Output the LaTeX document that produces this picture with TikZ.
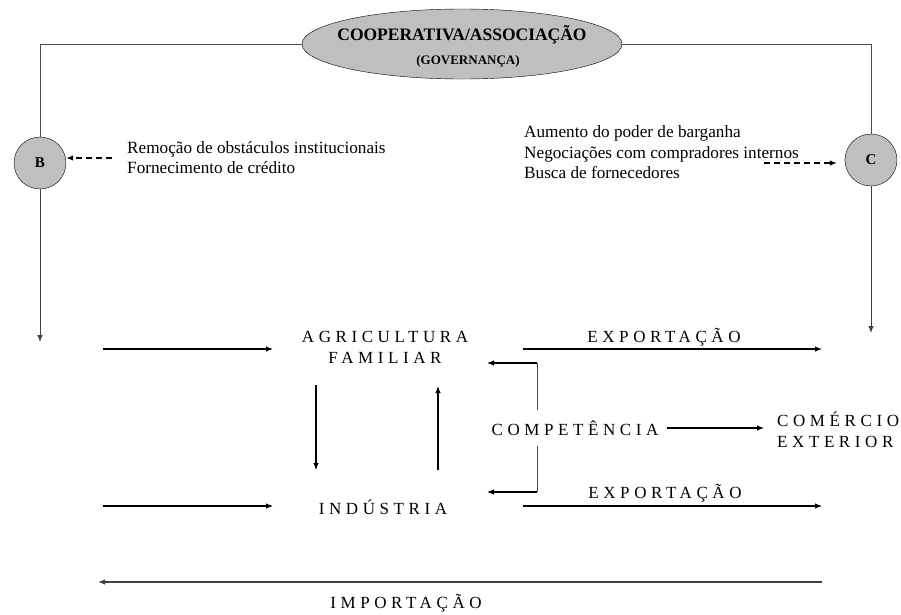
\documentclass[tikz,border=0pt]{standalone}
\usepackage{fontspec}
\setmainfont{Liberation Serif}
\newfontfamily\spc[LetterSpace=27]{Liberation Serif}
\usetikzlibrary{arrows.meta,shapes.geometric}
\begin{document}
\begin{tikzpicture}[x=1pt,y=-1pt,
  frame/.style={draw=black!70, line width=0.9pt},
  arr/.style={-{Latex[length=7pt,width=5.5pt]}, line width=1.1pt},
  garr/.style={-{Latex[length=7pt,width=5.5pt]}, line width=1pt, draw=black!75},
  dsh/.style={-{Latex[length=7pt,width=5.5pt]}, line width=1.2pt, dash pattern=on 6pt off 4pt},
  circ/.style={circle, draw, fill=black!25, minimum size=52pt, inner sep=0pt, font=\bfseries\fontsize{15}{17}\selectfont},
  lab/.style={inner sep=0pt, font=\spc\fontsize{17}{21}\selectfont, align=center},
  txt/.style={inner sep=0pt, anchor=west, align=left, font=\fontsize{17.2}{20.5}\selectfont}]
\useasboundingbox (0,0) rectangle (901,614);

% governance ellipse
\node[ellipse, draw, fill=black!25, minimum width=320pt, minimum height=70pt, inner sep=0pt] (gov) at (462,44) {};
\node[inner sep=0pt, font=\bfseries\fontsize{17.5}{20}\selectfont] (gt1) at (462,35) {COOPERATIVA/ASSOCIAÇÃO};
\node[inner sep=0pt, font=\bfseries\fontsize{13}{15}\selectfont] (gt2) at (468,61) {(GOVERNANÇA)};

% circles
\node[circ] (B) at (40,163) {B};
\node[circ] (C) at (871,160) {C};

% frame lines
\coordinate (Bend) at (40,342);
\coordinate (Cend) at (871,333);
\draw[frame] (gov.west) -| (B.north);
\draw[frame] (gov.east) -| (C.north);
\draw[garr] (B.south) -- (Bend);
\draw[garr] (C.south) -- (Cend);

% side texts
\node[txt] (tb) at (127,157.5) {Remoção de obstáculos institucionais\\Fornecimento de crédito};
\node[txt] (tc) at (524,152.5) {Aumento do poder de barganha\\Negociações com compradores internos\\Busca de fornecedores};
\coordinate (db) at (112,158);
\coordinate (dc) at (764,163);
\draw[dsh] (db) -- (db -| B.east);
\draw[dsh] ([xshift=0pt]dc) -- ([xshift=-8pt]dc -| C.west);

% central labels
\node[lab] (agr) at (385,347.5) {AGRICULTURA\\FAMILIAR};
\node[lab] (ind) at (383,507) {INDÚSTRIA};
\node[lab] (exp1) at (664,337) {EXPORTAÇÃO};
\node[lab] (exp2) at (665,493) {EXPORTAÇÃO};
\node[lab, anchor=west, align=left] (com) at (777,429.5) {COMÉRCIO\\EXTERIOR};
\node[lab] (imp) at (406,603) {IMPORTAÇÃO};

% arrows in
\coordinate (la1) at (103,349);
\coordinate (la2) at (273,349);
\coordinate (li1) at (103,506);
\coordinate (li2) at (273,506);
\draw[arr] (la1) -- (la2);
\draw[arr] (li1) -- (li2);

% exports
\coordinate (e1a) at (523,349);
\coordinate (e1b) at (822,349);
\coordinate (e2a) at (523,506);
\coordinate (e2b) at (822,506);
\draw[arr] (e1a) -- (e1b);
\draw[arr] (e2a) -- (e2b);

% vertical arrows between agriculture and industry
\coordinate (d1) at (316,385);
\coordinate (d2) at (316,470);
\coordinate (u1) at (438,470);
\coordinate (u2) at (438,386);
\draw[arr] (d1) -- (d2);
\draw[arr] (u1) -- (u2);

% competence bracket
\coordinate (c1) at (537,363);
\coordinate (c2) at (537,492);
\coordinate (a1) at (487,363);
\coordinate (a2) at (487,492);
\draw[frame] (c1) -- (c2);
\draw[arr] (c1) -- (a1);
\draw[arr] (c2) -- (a2);
\node[lab, fill=white, inner ysep=11pt] (comp) at (575,428) {COMPETÊNCIA};
\draw[arr] ([xshift=8pt]comp.east) -- ([xshift=-13pt]com.west |- comp.east);

% import
\coordinate (i1) at (822,582);
\coordinate (i2) at (98,582);
\draw[garr, line width=1.3pt] (i1) -- (i2);
\end{tikzpicture}
\end{document}
